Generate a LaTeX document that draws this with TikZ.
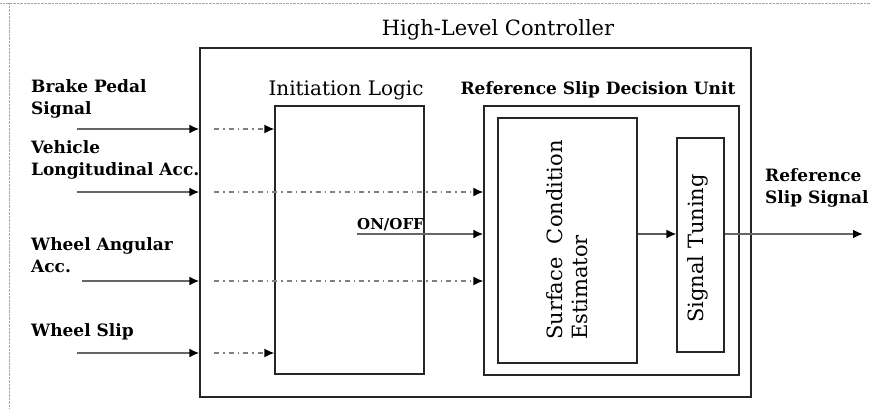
\documentclass[tikz,border=0pt]{standalone}
\usepackage{fontspec}
\setmainfont{DejaVu Serif}
\usetikzlibrary{positioning,arrows.meta}

\tikzset{
  blockbox/.style={draw=black!85, line width=1.2pt, inner sep=0pt},
  feed/.style={draw=black!60, line width=2.6pt, -{Latex[black,length=10pt,width=9pt]}},
  thinfeed/.style={draw=black!65, line width=1.4pt, -{Latex[black,length=10pt,width=9pt]}},
  pass/.style={draw=black!50, line width=1.5pt, dash pattern=on 5pt off 4pt on 1.5pt off 4pt, -{Latex[black,length=10pt,width=9pt]}},
  inlabel/.style={font=\fontsize{17}{22}\selectfont\bfseries, align=left, anchor=north west, inner sep=0pt},
  boxtitle/.style={font=\fontsize{20}{22}\selectfont, anchor=north, inner sep=0pt},
  innertext/.style={font=\fontsize{21}{25}\selectfont, align=left, rotate=90, anchor=west, inner sep=0pt},
}

\begin{document}
\begin{tikzpicture}[x=1pt,y=-1pt]
\useasboundingbox (0,0) rectangle (871,408);
% frame of the page
\draw[black!35, densely dotted] (0,3) -- (871,3);
\draw[black!35, densely dotted] (9,3) -- (9,408);

% blocks
\node[blockbox, minimum width=551pt, minimum height=349pt] (hlc) at (475.5,222.5) {};
\node[blockbox, minimum width=149pt, minimum height=268pt] (init) at (349.5,240) {};
\node[blockbox, minimum width=255pt, minimum height=269pt] (rsdu) at (611.5,240.5) {};
\node[blockbox, minimum width=139pt, minimum height=245pt] (sce) at (567.5,240.5) {};
\node[blockbox, minimum width=47pt, minimum height=214pt] (tune) at (700.5,245) {};

% block titles
\node[boxtitle, font=\fontsize{21}{22}\selectfont] (hlctitle) at (498,19) {High-Level Controller};
\node[boxtitle] (inittitle) at (346,81) {Initiation Logic};
\node[boxtitle, font=\fontsize{17}{22}\selectfont\bfseries] (rsdutitle) at (598,81) {Reference Slip Decision Unit};
\node[innertext] (scetext) at (567.5,340) {Surface\ \ Condition\\Estimator};
\node[innertext] (tunetext) at (698,323) {Signal Tuning};

% input signals
\node[inlabel] (brakelab) at (31,79) {Brake Pedal\\Signal};
\node[inlabel] (vehlab) at (31,140) {Vehicle\\Longitudinal Acc.};
\node[inlabel] (anglab) at (31,237) {Wheel Angular\\Acc.};
\node[inlabel] (sliplab) at (31,323) {Wheel Slip};

\coordinate (brake) at (77,129);
\coordinate (veh) at (77,192);
\coordinate (ang) at (82,281);
\coordinate (slip) at (77,353);

\draw[feed] (brake) -- (brake -| hlc.west);
\draw[pass] ([xshift=15pt]brake -| hlc.west) -- (brake -| init.west);
\draw[feed] (veh) -- (veh -| hlc.west);
\draw[pass] ([xshift=15pt]veh -| hlc.west) -- (veh -| rsdu.west);
\draw[feed] (ang) -- (ang -| hlc.west);
\draw[pass] ([xshift=15pt]ang -| hlc.west) -- (ang -| rsdu.west);
\draw[feed] (slip) -- (slip -| hlc.west);
\draw[pass] ([xshift=15pt]slip -| hlc.west) -- (slip -| init.west);

% ON/OFF and output
\coordinate (onoff) at (357,234);
\node[font=\fontsize{15}{18}\selectfont\bfseries, anchor=south west, inner sep=0pt] (onofflab) at ([yshift=3pt]onoff) {ON/OFF};
\draw[feed] (onoff) -- (onoff -| rsdu.west);
\draw[thinfeed] (sce.east |- onoff) -- (tune.west |- onoff);
\coordinate (out) at (863,234);
\draw[feed] (tune.east |- onoff) -- (out);
\node[inlabel] (outlab) at (765,168) {Reference\\Slip Signal};
\end{tikzpicture}
\end{document}
